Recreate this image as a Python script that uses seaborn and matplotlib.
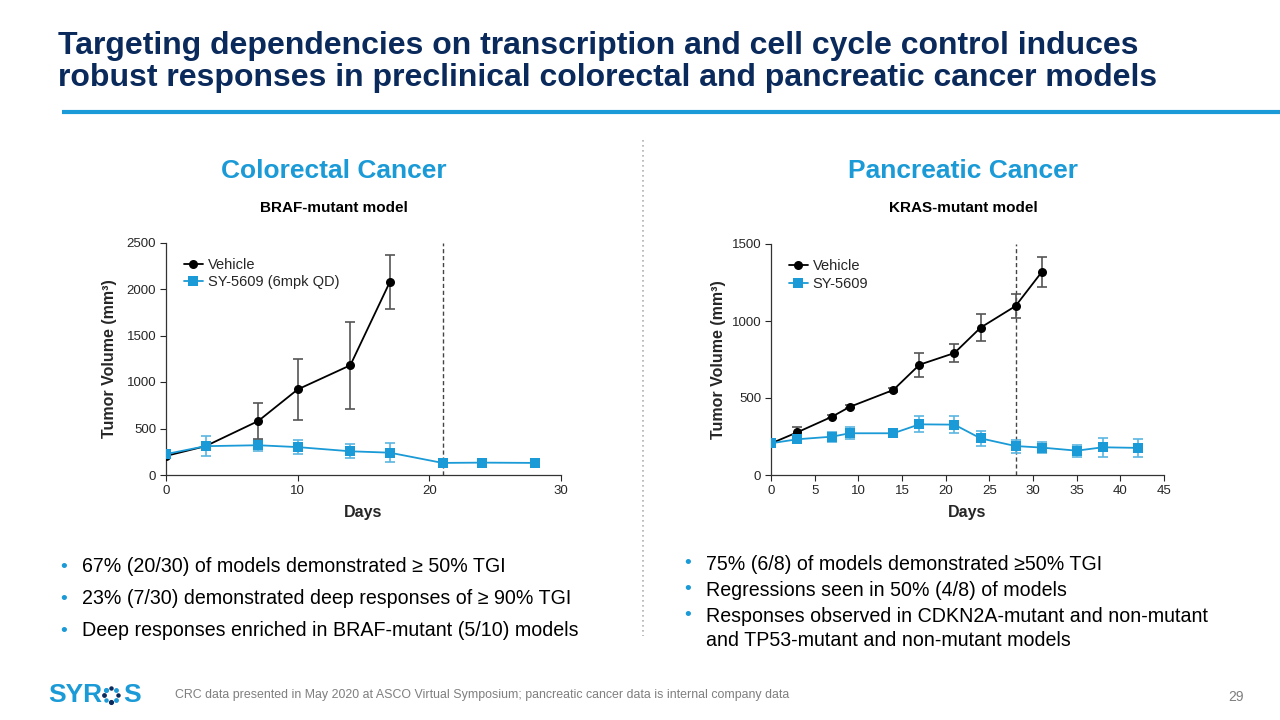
import numpy as np
import pandas as pd
import matplotlib
matplotlib.use("Agg")
import matplotlib.pyplot as plt
import seaborn as sns

# --- data ---
crc_days_vehicle = [0, 3, 7, 10, 14, 17]
crc_vehicle = [205, 310, 580, 920, 1180, 2075]
crc_vehicle_err = [0, 0, 190, 330, 465, 290]
crc_days_sy = [0, 3, 7, 10, 14, 17, 21, 24, 28]
crc_sy = [225, 310, 320, 300, 255, 240, 130, 133, 130]
crc_sy_err = [10, 110, 60, 75, 75, 105, 15, 10, 10]

pdac_days_vehicle = [0, 3, 7, 9, 14, 17, 21, 24, 28, 31]
pdac_vehicle = [205, 277, 379, 442, 552, 716, 792, 957, 1097, 1318]
pdac_vehicle_err = [0, 33, 10, 10, 10, 78, 58, 90, 77, 100]
pdac_days_sy = [0, 3, 7, 9, 14, 17, 21, 24, 28, 31, 35, 38, 42]
pdac_sy = [206, 232, 249, 271, 271, 329, 327, 238, 188, 178, 158, 180, 176]
pdac_sy_err = [10, 12, 32, 38, 10, 51, 55, 47, 42, 36, 40, 60, 60]

NAVY = "#0b2a5c"
BLUE = "#1a9ad6"
BLUE_ERR = "#5bb6e2"

sns.set_style("white")
plt.rcParams["font.family"] = ["Liberation Sans", "DejaVu Sans"]


def panel(ax, days_v, vals_v, err_v, days_s, vals_s, err_s, sy_label,
          xmax, xstep, ymax, ystep, cut_day, ypad):
    df = pd.concat([
        pd.DataFrame({"day": days_v, "vol": vals_v, "grp": "Vehicle"}),
        pd.DataFrame({"day": days_s, "vol": vals_s, "grp": sy_label}),
    ])
    ax.errorbar(days_s, vals_s, yerr=err_s, fmt="none", ecolor=BLUE_ERR,
                elinewidth=1.2, capsize=3.5, capthick=1.2, zorder=2)
    ax.errorbar(days_v, vals_v, yerr=err_v, fmt="none", ecolor="#555555",
                elinewidth=1.2, capsize=3.5, capthick=1.2, zorder=2)
    sns.lineplot(data=df, x="day", y="vol", hue="grp", style="grp",
                 palette={"Vehicle": "black", sy_label: BLUE},
                 markers={"Vehicle": "o", sy_label: "s"},
                 dashes=False, markersize=6.5, markeredgewidth=0,
                 linewidth=1.3, ax=ax, zorder=3)
    ax.axvline(cut_day, color="#444444", lw=1, ls=(0, (3, 2)), zorder=1)
    ax.set_xlim(0, xmax)
    ax.set_ylim(0, ymax)
    ax.set_xticks(np.arange(0, xmax + 1, xstep))
    ax.set_yticks(np.arange(0, ymax + 1, ystep))
    ax.tick_params(axis="both", labelsize=9.5, length=4, width=0.8,
                   direction="out", bottom=True, left=True, pad=3)
    for s in ["top", "right"]:
        ax.spines[s].set_visible(False)
    for s in ["left", "bottom"]:
        ax.spines[s].set_color("#333333")
        ax.spines[s].set_linewidth(0.9)
    ax.set_xlabel("Days", fontsize=11.5, fontweight="bold", labelpad=6)
    ax.set_ylabel("Tumor Volume (mm\u00b3)", fontsize=11.5,
                  fontweight="bold", labelpad=ypad)
    ax.legend(loc="upper left", bbox_to_anchor=(0.03, 0.96),
              frameon=False, fontsize=10.5, handlelength=1.3,
              handletextpad=0.35, labelspacing=0.25, borderaxespad=0)


fig = plt.figure(figsize=(12.8, 7.2), dpi=100)

ax1 = fig.add_axes([166 / 1280, 1 - 475 / 720, 395 / 1280, 232.5 / 720])
panel(ax1, crc_days_vehicle, crc_vehicle, crc_vehicle_err,
      crc_days_sy, crc_sy, crc_sy_err, "SY-5609 (6mpk QD)",
      30, 10, 2500, 500, 21, 7)

ax2 = fig.add_axes([771 / 1280, 1 - 475 / 720, 393 / 1280, 231 / 720])
panel(ax2, pdac_days_vehicle, pdac_vehicle, pdac_vehicle_err,
      pdac_days_sy, pdac_sy, pdac_sy_err, "SY-5609",
      45, 5, 1500, 500, 28, 4)

# title
title_lines = [
    ("Targeting dependencies on transcription and cell cycle control induces", 46),
    ("robust responses in preclinical colorectal and pancreatic cancer models", 78),
]
for t, yy in title_lines:
    fig.text(58 / 1280, 1 - yy / 720, t, color=NAVY, fontsize=23,
             fontweight="bold", ha="left", va="center")
fig.add_artist(plt.Line2D([62 / 1280, 1.0], [1 - 112 / 720] * 2,
                          color=BLUE, lw=3, solid_capstyle="butt"))

# vertical divider
fig.add_artist(plt.Line2D([643 / 1280] * 2, [1 - 140 / 720, 1 - 636 / 720],
                          color="#b0b0b0", lw=1.2, ls=(0, (1, 2))))

# section headers
fig.text(334 / 1280, 1 - 171 / 720, "Colorectal Cancer", color=BLUE,
         fontsize=19, fontweight="bold", ha="center", va="center")
fig.text(963 / 1280, 1 - 171 / 720, "Pancreatic Cancer", color=BLUE,
         fontsize=19, fontweight="bold", ha="center", va="center")
fig.text(334 / 1280, 1 - 208 / 720, "BRAF-mutant model", color="black",
         fontsize=11, fontweight="bold", ha="center", va="center")
fig.text(963 / 1280, 1 - 208 / 720, "KRAS-mutant model", color="black",
         fontsize=11, fontweight="bold", ha="center", va="center")

# bullets
left_bullets = [
    "67% (20/30) of models demonstrated \u2265 50% TGI",
    "23% (7/30) demonstrated deep responses of \u2265 90% TGI",
    "Deep responses enriched in BRAF-mutant (5/10) models",
]
for i, t in enumerate(left_bullets):
    y = 1 - (567 + 32 * i) / 720
    fig.text(60 / 1280, y, "\u2022", color=BLUE, fontsize=14, va="center")
    fig.text(82 / 1280, y, t, color="black", fontsize=14.1, va="center")

right_bullets = [
    ("75% (6/8) of models demonstrated \u226550% TGI", 564, True),
    ("Regressions seen in 50% (4/8) of models", 590, True),
    ("Responses observed in CDKN2A-mutant and non-mutant", 616, True),
    ("and TP53-mutant and non-mutant models", 641, False),
]
for t, yy, dot in right_bullets:
    if dot:
        fig.text(684 / 1280, 1 - yy / 720, "\u2022", color=BLUE, fontsize=14,
                 va="center")
    fig.text(706 / 1280, 1 - yy / 720, t, color="black", fontsize=14.1,
             va="center")

# footer logo
fig.text(48 / 1280, 1 - 695 / 720, "SYR", color=BLUE, fontsize=19,
         fontweight="bold", va="center")
ring = np.linspace(0, 2 * np.pi, 9)[:-1]
cx, cy = 111, 695
for k, a in enumerate(ring):
    fig.add_artist(plt.Line2D([(cx + 7 * np.cos(a)) / 1280],
                              [1 - (cy + 7 * np.sin(a)) / 720],
                              marker="o", ms=2.2 + 0.25 * (k % 3),
                              color=BLUE if k % 2 else NAVY, lw=0))
fig.text(123 / 1280, 1 - 695 / 720, "S", color=BLUE, fontsize=19,
         fontweight="bold", va="center")

fig.text(175 / 1280, 1 - 695 / 720,
         "CRC data presented in May 2020 at ASCO Virtual Symposium; "
         "pancreatic cancer data is internal company data",
         color="#7f7f7f", fontsize=8.9, va="center")
fig.text(1228 / 1280, 1 - 697 / 720, "29", color="#7f7f7f", fontsize=10,
         va="center")

fig.savefig("out.png", dpi=100)
